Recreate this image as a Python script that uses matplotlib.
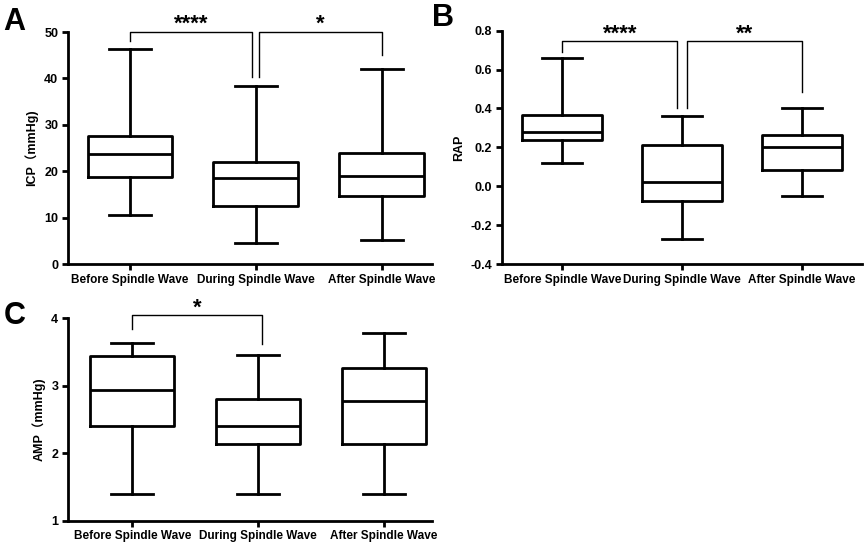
import matplotlib
matplotlib.use("Agg")
import matplotlib.pyplot as plt
from matplotlib.ticker import FormatStrFormatter

plt.rcParams['font.family'] = ['Liberation Sans', 'Noto Sans CJK SC', 'DejaVu Sans']
plt.rcParams['font.weight'] = 'bold'

categories = ["Before Spindle Wave", "During Spindle Wave", "After Spindle Wave"]

# five-number summaries: whislo, q1, med, q3, whishi
icp_lo = [10.6, 4.5, 5.1]
icp_q1 = [18.7, 12.4, 14.7]
icp_med = [23.8, 18.5, 18.9]
icp_q3 = [27.6, 22.0, 23.9]
icp_hi = [46.3, 38.3, 42.0]

rap_lo = [0.12, -0.27, -0.05]
rap_q1 = [0.236, -0.077, 0.082]
rap_med = [0.279, 0.024, 0.20]
rap_q3 = [0.365, 0.212, 0.264]
rap_hi = [0.66, 0.36, 0.40]

amp_lo = [1.40, 1.39, 1.39]
amp_q1 = [2.40, 2.13, 2.14]
amp_med = [2.94, 2.40, 2.77]
amp_q3 = [3.44, 2.80, 3.26]
amp_hi = [3.64, 3.46, 3.78]

# significance brackets: (x1, x2, y, leg1_bottom, leg2_bottom, label)
icp_sig = [(0, 0.97, 50, 48.0, 40.4, "****"), (1.03, 2, 50, 40.4, 45.1, "*")]
rap_sig = [(0, 0.96, 0.745, 0.692, 0.40, "****"), (1.04, 2, 0.745, 0.40, 0.486, "**")]
amp_sig = [(0, 1.03, 4.05, 3.84, 3.62, "*")]

fig = plt.figure(figsize=(8.65, 5.43), dpi=100)

def draw(ax, lo, q1, med, q3, hi, ylim, yticks, ylabel, sigs, xlim, fmt=None, boxw=0.67):
    stats = []
    for i in range(3):
        stats.append(dict(whislo=lo[i], q1=q1[i], med=med[i], q3=q3[i], whishi=hi[i], fliers=[]))
    lw = 2.0
    ax.bxp(stats, positions=[0, 1, 2], widths=boxw, showfliers=False,
           boxprops=dict(color='black', linewidth=lw),
           whiskerprops=dict(color='black', linewidth=lw),
           capprops=dict(color='black', linewidth=lw),
           medianprops=dict(color='black', linewidth=lw),
           capwidths=boxw * 0.5)
    ax.set_xlim(*xlim)
    ax.set_ylim(*ylim)
    ax.set_yticks(yticks)
    if fmt:
        ax.yaxis.set_major_formatter(FormatStrFormatter(fmt))
    ax.set_xticks([0, 1, 2])
    ax.set_xticklabels(categories, fontsize=8.5, fontweight='bold')
    for lab in ax.get_yticklabels():
        lab.set_fontsize(9)
        lab.set_fontweight('bold')
    ax.set_ylabel(ylabel, fontsize=9, fontweight='bold', labelpad=4)
    for s in ['top', 'right']:
        ax.spines[s].set_visible(False)
    for s in ['left', 'bottom']:
        ax.spines[s].set_linewidth(2.0)
    ax.tick_params(direction='out', length=4, width=2.0, pad=3)
    span = ylim[1] - ylim[0]
    for x1, x2, y, b1, b2, lab in sigs:
        ax.plot([x1, x1, x2, x2], [b1, y, y, b2], color='black', lw=1.0, clip_on=False)
        ax.text((x1 + x2) / 2, y + span * 0.008, lab, ha='center', va='baseline',
                fontsize=16, fontweight='bold', clip_on=False)

axA = fig.add_axes([0.0786, 0.5138, 0.4208, 0.4272])
draw(axA, icp_lo, icp_q1, icp_med, icp_q3, icp_hi, (0, 50), [0, 10, 20, 30, 40, 50],
     "ICP（mmHg)", icp_sig, (-0.49, 2.4))

axB = fig.add_axes([0.580, 0.5138, 0.4165, 0.4297])
draw(axB, rap_lo, rap_q1, rap_med, rap_q3, rap_hi, (-0.4, 0.8),
     [-0.4, -0.2, 0.0, 0.2, 0.4, 0.6, 0.8], "RAP", rap_sig, (-0.505, 2.5), fmt='%.1f')

axC = fig.add_axes([0.0786, 0.0411, 0.4208, 0.3727])
draw(axC, amp_lo, amp_q1, amp_med, amp_q3, amp_hi, (1, 4), [1, 2, 3, 4],
     "AMP（mmHg)", amp_sig, (-0.51, 2.38))

fig.text(0.004, 0.988, "A", fontsize=22, fontweight='bold', va='top', ha='left')
fig.text(0.500, 0.995, "B", fontsize=22, fontweight='bold', va='top', ha='left')
fig.text(0.004, 0.445, "C", fontsize=22, fontweight='bold', va='top', ha='left')

fig.savefig("out.png", dpi=100)
